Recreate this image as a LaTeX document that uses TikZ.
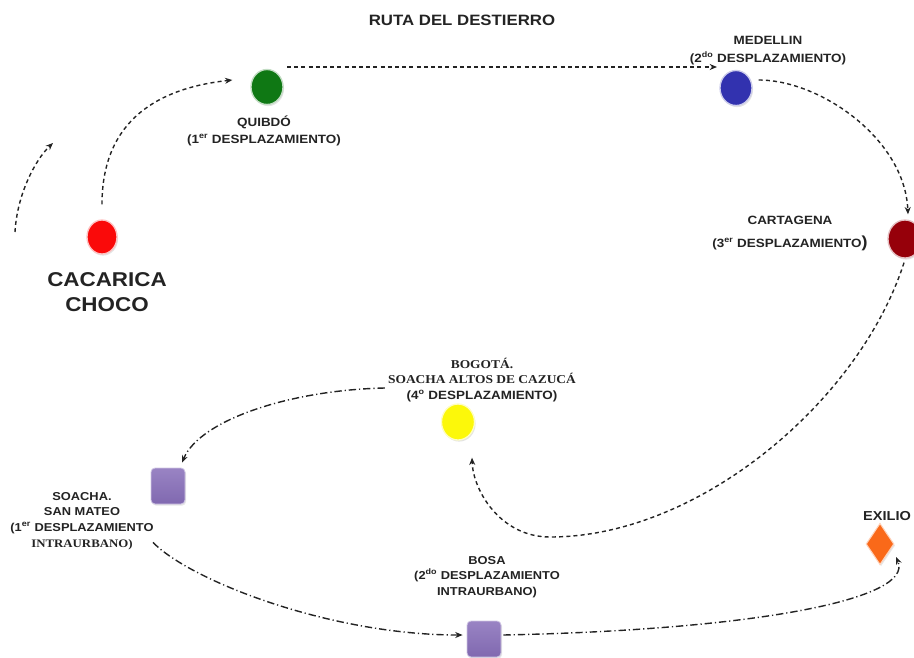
\documentclass[tikz,border=0pt]{standalone}
\usepackage{fontspec}
\setmainfont{Liberation Sans}[FakeStretch=1.12]
\newfontfamily\serifb{Liberation Serif}[FakeStretch=1.12]
\usetikzlibrary{shapes.geometric,arrows.meta,shadows}
\definecolor{ink}{RGB}{35,35,35}
\definecolor{cred}{RGB}{250,10,10}
\definecolor{cgreen}{RGB}{15,120,20}
\definecolor{cblue}{RGB}{50,50,175}
\definecolor{cdred}{RGB}{150,0,10}
\definecolor{cyel}{RGB}{252,248,10}
\definecolor{cpurp}{RGB}{135,110,185}
\definecolor{corange}{RGB}{250,105,25}
\tikzset{
  lbl/.style={inner sep=0pt, align=center, text=ink},
  spot/.style={ellipse, inner sep=0pt, fill=#1, draw=#1!25, line width=1pt,
    drop shadow={shadow xshift=0.8pt, shadow yshift=-1.2pt, opacity=0.22}},
  sqbox/.style={rectangle, rounded corners=3pt, inner sep=0pt,
    minimum width=25.5pt, minimum height=27pt, top color=cpurp!85!white,
    bottom color=cpurp!95!black, draw=cpurp!40, line width=0.6pt,
    drop shadow={shadow xshift=0.8pt, shadow yshift=-1.2pt, opacity=0.2}},
  tip/.style={-{Stealth[length=5.5pt,width=4.5pt]}},
  dsh/.style={draw=ink, line width=1.05pt, dash pattern=on 3pt off 2.4pt, tip},
  ddot/.style={draw=ink, line width=1.05pt, dash pattern=on 5.5pt off 2.2pt on 0.9pt off 2.2pt, tip},
}
\begin{document}
\begin{tikzpicture}[x=0.75pt,y=-0.75pt]
\useasboundingbox (0,0) rectangle (914,657);

% title
\node[lbl, font=\bfseries\fontsize{11.25}{13}\selectfont] (title) at (462,20) {RUTA DEL DESTIERRO};

% places
\node[spot=cred, minimum width=22.5pt, minimum height=25.5pt] (cac) at (102,237) {};
\node[spot=cgreen, minimum width=24pt, minimum height=26.25pt] (q) at (267,87) {};
\node[spot=cblue, minimum width=24pt, minimum height=26.25pt] (m) at (736,88) {};
\node[spot=cdred, minimum width=25.5pt, minimum height=28.5pt] (cart) at (905,239) {};
\node[spot=cyel, minimum width=24.75pt, minimum height=27pt] (bog) at (458,422) {};
\node[sqbox] (s1) at (168,486) {};
\node[sqbox] (bosa) at (484,639) {};
\node[diamond, inner sep=0pt, minimum width=21pt, minimum height=31pt, fill=corange,
  draw=corange!30, line width=0.8pt,
  drop shadow={shadow xshift=0.8pt, shadow yshift=-1.2pt, opacity=0.2}] (ex) at (880,544) {};

% labels
\node[lbl, font=\bfseries\fontsize{15}{18.75}\selectfont] (caclbl) at (107,292.5) {CACARICA\\CHOCO};
\node[lbl, font=\bfseries\fontsize{9}{12.75}\selectfont] (qlbl) at (264,131) {QUIBDÓ\\(1\textsuperscript{er} DESPLAZAMIENTO)};
\node[lbl, font=\bfseries\fontsize{9}{13.5}\selectfont] (mlbl) at (768,51) {MEDELLIN\\(2\textsuperscript{do} DESPLAZAMIENTO)};
\node[lbl, font=\bfseries\fontsize{9}{17.25}\selectfont] (cartlbl) at (790,233.5) {CARTAGENA\\(3\textsuperscript{er} DESPLAZAMIENTO{\fontsize{12}{12}\selectfont)}};
\node[lbl, font=\bfseries\fontsize{9}{11.6}\selectfont] (boglbl) at (482,380) {{\serifb BOGOTÁ.}\\{\serifb SOACHA ALTOS DE CAZUCÁ}\\(4\textsuperscript{o} DESPLAZAMIENTO)};
\node[lbl, font=\bfseries\fontsize{8.6}{11.8}\selectfont] (s1lbl) at (82,521) {SOACHA.\\SAN MATEO\\(1\textsuperscript{er} DESPLAZAMIENTO\\{\serifb INTRAURBANO)}};
\node[lbl, font=\bfseries\fontsize{8.6}{11.6}\selectfont] (bosalbl) at (487,577) {BOSA\\(2\textsuperscript{do} DESPLAZAMIENTO\\INTRAURBANO)};
\node[lbl, font=\bfseries\fontsize{9.75}{12}\selectfont] (exlbl) at (887,516) {EXILIO};

% connectors
\coordinate (st0) at (15,232);
\coordinate (st1) at (53,143);
\draw[dsh] (st0) .. controls (17,195) and (35,160) .. (st1);

\draw[dsh] ([shift={(0,-15)}]cac.north) .. controls +(0,-85) and +(-73,8) .. ([shift={(-18,-7)}]q.west);
\draw[dsh] ([shift={(20,-20)}]q.center) -- ([shift={(-19,-21)}]m.center);
\draw[dsh] ([shift={(6,-8)}]m.east) .. controls +(62,0) and +(-3,-75) .. ([shift={(3,-5)}]cart.north);
\coordinate (low) at (550,537);
\draw[dsh] ([shift={(-1,4)}]cart.south) .. controls (860,400) and (700,537) .. (low)
  .. controls (500,537) and (473,490) .. ([shift={(14,17)}]bog.south);

\draw[ddot] ([shift={(-3,8)}]boglbl.west) .. controls (290,390) and (200,420) .. ([shift={(14,-5)}]s1.north);
\draw[ddot] ([shift={(-15,38)}]s1.south) .. controls +(37,38) and +(-133,0) .. ([shift={(-4,-4)}]bosa.west);
\draw[ddot] ([shift={(2,-4)}]bosa.east) .. controls +(246,-5) and +(19,43) .. ([shift={(16,13)}]ex.center);
\end{tikzpicture}
\end{document}
